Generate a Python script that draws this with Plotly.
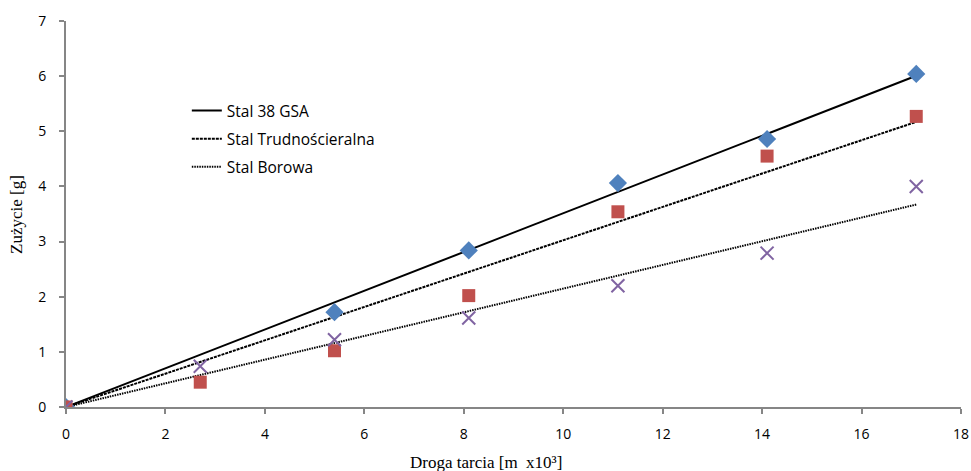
import numpy as np
import plotly.graph_objects as go

# Data
x_gsa = [0, 5.4, 8.1, 11.1, 14.1, 17.1]
y_gsa = [0, 1.72, 2.84, 4.06, 4.86, 6.04]

x_trud = [0, 2.7, 5.4, 8.1, 11.1, 14.1, 17.1]
y_trud = [0, 0.45, 1.02, 2.02, 3.54, 4.55, 5.27]

x_bor = [0, 2.7, 5.4, 8.1, 11.1, 14.1, 17.1]
y_bor = [0, 0.74, 1.22, 1.615, 2.20, 2.79, 4.00]

names = ["Stal 38 GSA", "Stal Trudnościeralna", "Stal Borowa"]
x_ticks = [0, 2, 4, 6, 8, 10, 12, 14, 16, 18]
y_ticks = [0, 1, 2, 3, 4, 5, 6, 7]


def fit_origin(xs, ys):
    xs = np.asarray(xs, float)
    ys = np.asarray(ys, float)
    k = (xs * ys).sum() / (xs * xs).sum()
    xx = np.array([0.0, xs.max()])
    return xx, k * xx


fig = go.Figure()

series = [
    (x_gsa, y_gsa, "#4F81BD", "diamond", 14, "solid"),
    (x_trud, y_trud, "#C0504D", "square", 13, "3px,1px"),
    (x_bor, y_bor, "#8064A2", "x-thin", 13, "1.5px,1px"),
]

# trendlines (legend entries)
for i, ((xs, ys, col, sym, sz, dash), name) in enumerate(zip(series, names)):
    fx, fy = fit_origin(xs, ys)
    fig.add_trace(go.Scatter(
        x=fx, y=fy, mode="lines", name=name, legendgroup="g%d" % i,
        line=dict(color="black", width=2, dash=dash),
        showlegend=True,
    ))

# markers
for (xs, ys, col, sym, sz, dash), name in zip(series, names):
    if sym == "x-thin":
        marker = dict(symbol="x-thin", size=sz, color=col,
                      line=dict(color=col, width=2))
    else:
        marker = dict(symbol=sym, size=sz, color=col,
                      line=dict(width=0))
    fig.add_trace(go.Scatter(
        x=xs, y=ys, mode="markers", name=name + " (dane)",
        marker=marker, showlegend=False,
    ))

axis_common = dict(
    showgrid=False, zeroline=False, showline=True,
    linecolor="#868686", linewidth=2,
    ticks="outside", ticklen=5, tickwidth=2, tickcolor="#868686",
    tickfont=dict(family="Open Sans, Noto Sans, sans-serif", size=14, color="#000000"),
    automargin=False,
)

fig.update_xaxes(range=[0, 18], tickvals=x_ticks, ticklabelstandoff=8, **axis_common)
fig.update_yaxes(range=[0, 7], tickvals=y_ticks, ticklabelstandoff=10, **axis_common)

fig.update_layout(
    width=971, height=471,
    margin=dict(l=66, r=10, t=21, b=64),
    plot_bgcolor="white", paper_bgcolor="white",
    showlegend=True,
    legend=dict(
        x=0.135, y=0.811, xanchor="left", yanchor="top",
        bgcolor="rgba(0,0,0,0)",
        font=dict(family="Open Sans, Noto Sans, sans-serif", size=15.5, color="#000000"),
        tracegroupgap=5,
    ),
    annotations=[
        dict(text="Droga tarcia [m  x10³]", xref="paper", yref="paper",
             x=(486 - 66) / (961 - 66), y=-0.143, xanchor="center", yanchor="middle",
             showarrow=False,
             font=dict(family="Liberation Serif, Times New Roman, serif", size=17, color="#000000")),
        dict(text="Zużycie [g]", xref="paper", yref="paper",
             x=-0.056, y=0.5, xanchor="center", yanchor="middle", textangle=-90,
             showarrow=False,
             font=dict(family="Liberation Serif, Times New Roman, serif", size=17, color="#000000")),
    ],
)

fig.write_html(
    "out.html",
    config={"displayModeBar": False},
    post_script="document.body.style.margin='0';document.body.style.overflow='hidden';",
)
